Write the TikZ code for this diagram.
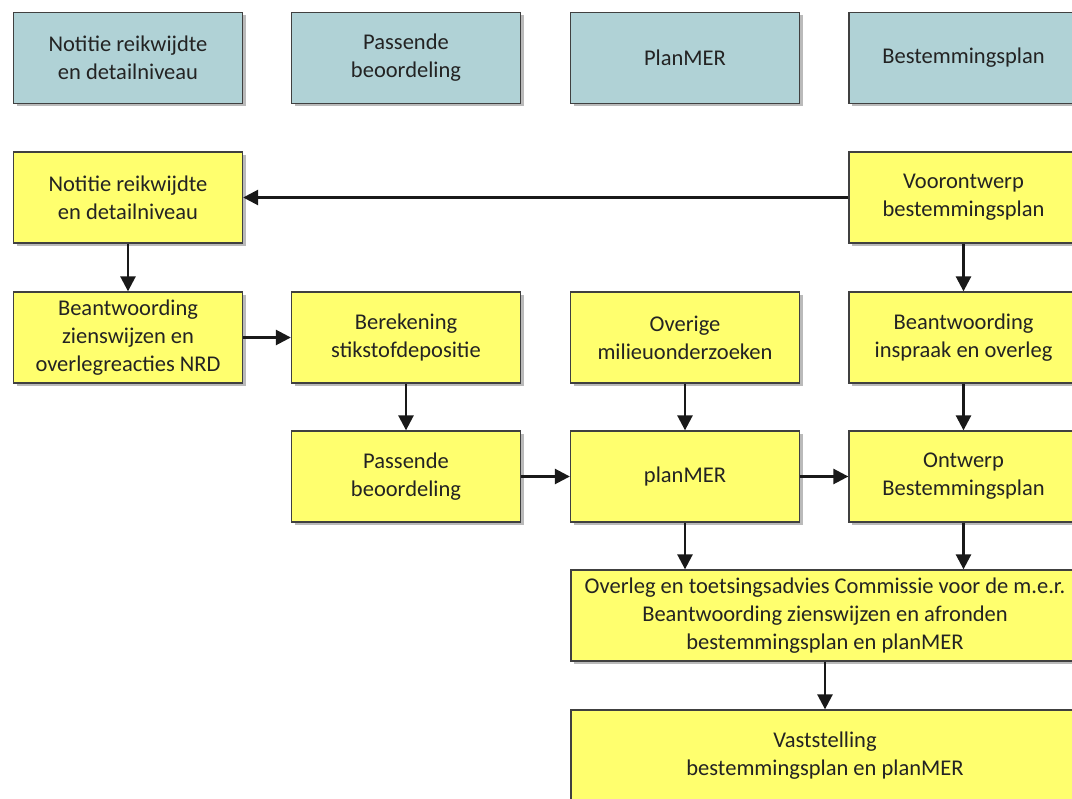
\documentclass[tikz,border=0pt]{standalone}
\usepackage{fontspec}
\setmainfont{Carlito}
\usetikzlibrary{arrows.meta,shadows}
\definecolor{tealbox}{RGB}{176,210,214}
\definecolor{yelbox}{RGB}{255,255,110}
\definecolor{txt}{RGB}{35,35,35}
\tikzset{
  boxbase/.style={draw=black!75, line width=1.3pt, minimum width=229pt, minimum height=91pt,
    inner sep=0pt, align=center, text=txt,
    font=\fontsize{22.5}{28}\selectfont,
    drop shadow={shadow xshift=3pt, shadow yshift=-3pt, fill=black!45, opacity=0.6}},
  hdr/.style={boxbase, fill=tealbox},
  ybox/.style={boxbase, fill=yelbox},
  arr/.style={line width=2.6pt, draw=black!90, -{Triangle[length=15pt,width=15pt]}}
}
\begin{document}
\begin{tikzpicture}[x=1pt,y=-1pt]
\useasboundingbox (0,0) rectangle (1072,799);
\clip (0,0) rectangle (1072,799);
\fill[white] (0,0) rectangle (1072,799);
% header row
\node[hdr] (h1) at (128,58) {Notitie reikwijdte\\en detailniveau};
\node[hdr] (h2) at (406,58) {Passende\\beoordeling};
\node[hdr] (h3) at (685,58) {PlanMER};
\node[hdr] (h4) at (963.5,58) {Bestemmingsplan};
% row 1
\node[ybox] (a1) at (128,197.5) {Notitie reikwijdte\\en detailniveau};
\node[ybox] (a4) at (963.5,197.5) {Voorontwerp\\bestemmingsplan};
% row 2
\node[ybox] (b1) at (128,337.5) {Beantwoording\\zienswijzen en\\overlegreacties NRD};
\node[ybox] (b2) at (406,337.5) {Berekening\\stikstofdepositie};
\node[ybox] (b3) at (685,337.5) {Overige\\milieuonderzoeken};
\node[ybox] (b4) at (963.5,337.5) {Beantwoording\\inspraak en overleg};
% row 3
\node[ybox] (c2) at (406,476.5) {Passende\\beoordeling};
\node[ybox] (c3) at (685,476.5) {planMER};
\node[ybox] (c4) at (963.5,476.5) {Ontwerp\\Bestemmingsplan};
% row 4
\node[ybox, minimum width=508pt] (d) at (825,615.5) {Overleg en toetsingsadvies Commissie voor de m.e.r.\\Beantwoording zienswijzen en afronden\\bestemmingsplan en planMER};
% row 5
\node[ybox, minimum width=508pt] (e) at (825,755.5) {Vaststelling\\bestemmingsplan en planMER};
% arrows
\draw[arr] (a4.west) -- (a1.east);
\draw[arr] (a1.south) -- (b1.north);
\draw[arr] (b1.east) -- (b2.west);
\draw[arr] (b2.south) -- (c2.north);
\draw[arr] (b3.south) -- (c3.north);
\draw[arr] (a4.south) -- (b4.north);
\draw[arr] (b4.south) -- (c4.north);
\draw[arr] (c2.east) -- (c3.west);
\draw[arr] (c3.east) -- (c4.west);
\draw[arr] (c3.south) -- (c3.south |- d.north);
\draw[arr] (c4.south) -- (c4.south |- d.north);
\draw[arr] (d.south -| e.north) -- (e.north);
\end{tikzpicture}
\end{document}
